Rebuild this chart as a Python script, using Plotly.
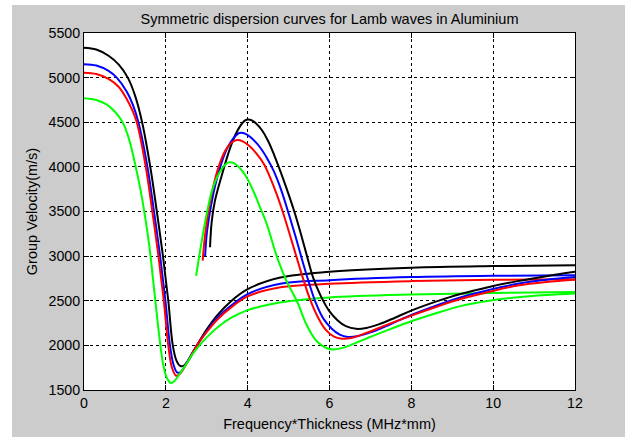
import plotly.graph_objects as go

# ---- data (x: Frequency*Thickness MHz*mm, y: group velocity m/s)
black_s0_x = [0, 0.3, 0.6, 0.85, 1.07, 1.25, 1.42, 1.62, 1.78, 1.93, 2.06, 2.17, 2.26, 2.35, 2.43, 2.55, 2.76, 3.0, 3.26, 3.58, 4.0, 4.8, 6.0, 8.0, 10.0, 12.0]
black_s0_y = [5335, 5315, 5245, 5145, 5000, 4795, 4500, 4000, 3500, 3000, 2500, 2000, 1830, 1770, 1770, 1830, 2000, 2180, 2340, 2490, 2630, 2760, 2825, 2870, 2888, 2897]

blue_s0_x = [0, 0.3, 0.6, 0.8, 1.05, 1.2, 1.33, 1.55, 1.71, 1.86, 1.99, 2.1, 2.19, 2.28, 2.37, 2.5, 2.76, 3.0, 3.26, 3.58, 4.0, 4.8, 6.0, 8.0, 10.0, 12.0]
blue_s0_y = [5150, 5135, 5075, 5000, 4840, 4690, 4500, 4000, 3500, 3000, 2500, 2000, 1780, 1695, 1705, 1800, 2000, 2160, 2310, 2440, 2575, 2690, 2730, 2765, 2780, 2785]

red_s0_x = [0, 0.3, 0.6, 0.85, 1.05, 1.18, 1.29, 1.51, 1.67, 1.82, 1.95, 2.06, 2.15, 2.25, 2.34, 2.5, 2.76, 3.0, 3.26, 3.58, 4.0, 4.8, 6.0, 8.0, 10.0, 12.0]
red_s0_y = [5055, 5040, 4985, 4895, 4755, 4635, 4500, 4000, 3500, 3000, 2500, 2000, 1750, 1660, 1680, 1790, 2000, 2150, 2290, 2420, 2549, 2650, 2690, 2720, 2735, 2742]

green_s0_x = [0, 0.3, 0.55, 0.75, 0.93, 1.02, 1.12, 1.25, 1.37, 1.48, 1.6, 1.72, 1.84, 1.93, 2.02, 2.12, 2.22, 2.35, 2.5, 2.65, 2.8, 3.0, 3.26, 3.6, 4.0, 4.5, 5.0, 6.0, 8.0, 10.0, 12.0]
green_s0_y = [4770, 4750, 4700, 4620, 4510, 4420, 4280, 4030, 3770, 3480, 3100, 2600, 2100, 1800, 1640, 1578, 1605, 1690, 1790, 1900, 1990, 2090, 2200, 2310, 2395, 2455, 2495, 2537, 2570, 2588, 2598]

black_s1_x = [3.08, 3.12, 3.2, 3.37, 3.57, 3.7, 3.82, 3.92, 4.0, 4.08, 4.2, 4.35, 4.5, 4.65, 4.76, 4.95, 5.14, 5.3, 5.45, 5.6, 5.78, 6.0, 6.2, 6.4, 6.65, 6.9, 7.2, 7.6, 8.0, 8.6, 9.2, 9.9, 10.6, 11.3, 12.0]
black_s1_y = [3100, 3380, 3620, 3910, 4210, 4360, 4460, 4515, 4530, 4525, 4490, 4410, 4290, 4130, 4000, 3760, 3500, 3250, 3000, 2760, 2560, 2380, 2280, 2215, 2185, 2195, 2235, 2310, 2390, 2490, 2576, 2655, 2720, 2775, 2825]

blue_s1_x = [2.96, 3.0, 3.08, 3.2, 3.33, 3.5, 3.65, 3.8, 3.95, 4.1, 4.3, 4.47, 4.63, 4.82, 5.0, 5.17, 5.33, 5.5, 5.67, 5.85, 6.05, 6.25, 6.45, 6.7, 7.0, 7.5, 8.0, 8.6, 9.2, 9.9, 10.6, 11.3, 12.0]
blue_s1_y = [3000, 3250, 3500, 3780, 4000, 4210, 4320, 4380, 4370, 4320, 4220, 4100, 3960, 3740, 3480, 3220, 2960, 2700, 2470, 2300, 2190, 2120, 2095, 2105, 2145, 2240, 2340, 2445, 2537, 2620, 2690, 2735, 2765]

red_s1_x = [2.9, 2.95, 3.04, 3.15, 3.29, 3.45, 3.6, 3.74, 3.88, 4.05, 4.25, 4.4, 4.55, 4.72, 4.89, 5.05, 5.2, 5.36, 5.52, 5.7, 5.9, 6.1, 6.3, 6.55, 6.9, 7.4, 8.0, 8.6, 9.2, 9.9, 10.6, 11.3, 12.0]
red_s1_y = [2950, 3200, 3500, 3760, 4000, 4180, 4270, 4300, 4285, 4230, 4130, 4030, 3880, 3680, 3450, 3210, 2980, 2740, 2520, 2330, 2180, 2100, 2075, 2085, 2140, 2230, 2333, 2430, 2520, 2600, 2670, 2710, 2735]

green_s1_x = [2.74, 2.83, 2.92, 3.02, 3.12, 3.22, 3.33, 3.43, 3.53, 3.65, 3.8, 3.95, 4.14, 4.3, 4.47, 4.71, 4.95, 5.2, 5.45, 5.7, 5.95, 6.1, 6.35, 6.6, 7.0, 7.5, 8.0, 8.6, 9.2, 9.9, 10.6, 11.3, 12.0]
green_s1_y = [2780, 3040, 3280, 3520, 3720, 3850, 3950, 4015, 4050, 4045, 3990, 3900, 3727, 3550, 3355, 3000, 2720, 2500, 2220, 2040, 1965, 1955, 1975, 2020, 2095, 2185, 2270, 2360, 2440, 2500, 2540, 2565, 2582]

x_ticks = [0, 2, 4, 6, 8, 10, 12]
y_ticks = [1500, 2000, 2500, 3000, 3500, 4000, 4500, 5000, 5500]

title_text = "Symmetric dispersion curves for Lamb waves in Aluminium"
x_title = "Frequency*Thickness (MHz*mm)"
y_title = "Group Velocity(m/s)"

series = [
    (black_s0_x, black_s0_y, "#000000"),
    (blue_s0_x, blue_s0_y, "#0000ff"),
    (red_s0_x, red_s0_y, "#ff0000"),
    (green_s0_x, green_s0_y, "#00ff00"),
    (black_s1_x, black_s1_y, "#000000"),
    (blue_s1_x, blue_s1_y, "#0000ff"),
    (red_s1_x, red_s1_y, "#ff0000"),
    (green_s1_x, green_s1_y, "#00ff00"),
]

fig = go.Figure()
for xs, ys, col in series:
    fig.add_trace(go.Scatter(x=xs, y=ys, mode="lines",
                             line=dict(color=col, width=2, shape="spline", smoothing=1.0),
                             showlegend=False, hoverinfo="skip"))

FONT = "Liberation Sans, Arial, sans-serif"
TXT = 14.5
axis_common = dict(
    showline=True, linecolor="black", linewidth=1, mirror="ticks",
    ticks="inside", ticklen=5, tickcolor="black",
    showgrid=True, gridcolor="black", gridwidth=1, griddash="3px,3px",
    zeroline=False, tickfont=dict(family=FONT, size=14.2, color="black"),
)

fig.update_layout(
    width=632, height=437,
    margin=dict(l=84, r=57, t=33, b=47, autoexpand=False),
    paper_bgcolor="#cccccc", plot_bgcolor="white",
    title=dict(text=title_text, x=0.5, xref="paper", xanchor="center",
               y=1 - 19 / 437, yanchor="middle",
               font=dict(family=FONT, size=TXT, color="black")),
    xaxis=dict(range=[0, 12], tickvals=x_ticks, ticktext=[str(v) for v in x_ticks],
               title=dict(text=x_title, standoff=8, font=dict(family=FONT, size=TXT, color="black")),
               automargin=False, **axis_common),
    yaxis=dict(range=[1500, 5500], tickvals=y_ticks, ticktext=[str(v) for v in y_ticks],
               title=dict(text=y_title, standoff=7, font=dict(family=FONT, size=TXT, color="black")),
               automargin=False, **axis_common),
    shapes=[
        dict(type="rect", xref="paper", yref="paper", x0=-0.2, x1=(12 - 84) / 491, y0=-0.2, y1=1.2,
             fillcolor="white", line=dict(width=0), layer="above"),
        dict(type="rect", xref="paper", yref="paper", x0=(625 - 84) / 491, x1=1.2, y0=-0.2, y1=1.2,
             fillcolor="white", line=dict(width=0), layer="above"),
        dict(type="rect", xref="paper", yref="paper", x0=-0.2, x1=1.2, y0=(390 - 5) / 357, y1=1.2,
             fillcolor="white", line=dict(width=0), layer="above"),
    ],
)

fig.write_html("out.html", config={"displayModeBar": False, "staticPlot": True},
               post_script="document.body.style.margin='0';document.body.style.overflow='hidden';")
